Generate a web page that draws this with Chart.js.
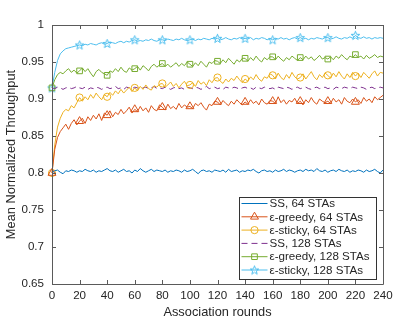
<!DOCTYPE html>
<html>
<head>
<meta charset="utf-8">
<script src="https://cdn.jsdelivr.net/npm/chart.js@4"></script>
<style>
  html, body { margin: 0; padding: 0; background: #fff; }
  #wrap { width: 399px; height: 320px; }
</style>
</head>
<body>
<div id="wrap"><canvas id="tputChart"></canvas></div>
<script>
// association rounds (sampled every 2 rounds)
const rounds = [0,2,4,6,8,10,12,14,16,18,20,22,24,26,28,30,32,34,36,38,
  40,42,44,46,48,50,52,54,56,58,60,62,64,66,68,70,72,74,76,78,
  80,82,84,86,88,90,92,94,96,98,100,102,104,106,108,110,112,114,116,118,
  120,122,124,126,128,130,132,134,136,138,140,142,144,146,148,150,152,154,156,158,
  160,162,164,166,168,170,172,174,176,178,180,182,184,186,188,190,192,194,196,198,
  200,202,204,206,208,210,212,214,216,218,220,222,224,226,228,230,232,234,236,238,240];

const ss64 = [0.800,0.803,0.804,0.801,0.799,0.803,0.802,0.804,0.803,0.801,
  0.803,0.802,0.805,0.803,0.802,0.804,0.801,0.803,0.802,0.804,
  0.806,0.803,0.802,0.804,0.801,0.803,0.805,0.802,0.803,0.800,
  0.804,0.802,0.806,0.803,0.801,0.803,0.805,0.802,0.804,0.803,
  0.802,0.804,0.801,0.803,0.802,0.804,0.803,0.801,0.804,0.802,
  0.803,0.805,0.802,0.799,0.803,0.804,0.802,0.803,0.801,0.804,
  0.803,0.802,0.804,0.801,0.805,0.802,0.803,0.804,0.801,0.803,
  0.802,0.804,0.803,0.805,0.802,0.800,0.803,0.804,0.802,0.803,
  0.801,0.804,0.802,0.803,0.805,0.802,0.804,0.803,0.801,0.803,
  0.804,0.802,0.805,0.803,0.804,0.802,0.806,0.803,0.802,0.804,
  0.801,0.803,0.804,0.802,0.805,0.803,0.802,0.804,0.801,0.803,
  0.802,0.804,0.803,0.801,0.804,0.802,0.803,0.805,0.802,0.800,0.804];

const greedy64 = [0.800,0.832,0.848,0.856,0.861,0.866,0.859,0.867,0.872,0.865,
  0.870,0.874,0.867,0.876,0.871,0.878,0.873,0.880,0.871,0.881,
  0.878,0.884,0.876,0.882,0.879,0.886,0.880,0.884,0.889,0.881,
  0.886,0.883,0.890,0.884,0.888,0.882,0.891,0.886,0.884,0.892,
  0.889,0.885,0.893,0.887,0.890,0.886,0.894,0.888,0.892,0.889,
  0.890,0.887,0.894,0.891,0.895,0.889,0.885,0.893,0.891,0.897,
  0.896,0.892,0.898,0.894,0.891,0.897,0.893,0.899,0.895,0.892,
  0.896,0.893,0.899,0.894,0.897,0.892,0.900,0.895,0.893,0.898,
  0.897,0.894,0.903,0.895,0.899,0.893,0.898,0.896,0.901,0.894,
  0.897,0.892,0.899,0.895,0.902,0.896,0.893,0.900,0.897,0.895,
  0.897,0.894,0.901,0.896,0.899,0.893,0.902,0.897,0.895,0.900,
  0.896,0.899,0.894,0.902,0.897,0.900,0.895,0.903,0.899,0.902,0.905];

const sticky64 = [0.800,0.838,0.862,0.874,0.882,0.886,0.884,0.891,0.888,0.895,
  0.902,0.897,0.903,0.899,0.906,0.901,0.908,0.903,0.899,0.906,
  0.903,0.909,0.905,0.911,0.907,0.913,0.908,0.912,0.916,0.910,
  0.915,0.911,0.917,0.913,0.919,0.914,0.912,0.918,0.916,0.920,
  0.921,0.916,0.919,0.923,0.917,0.921,0.915,0.920,0.924,0.918,
  0.919,0.922,0.917,0.925,0.920,0.923,0.918,0.926,0.922,0.928,
  0.929,0.924,0.921,0.927,0.923,0.928,0.925,0.931,0.926,0.922,
  0.927,0.924,0.930,0.926,0.933,0.927,0.924,0.930,0.928,0.934,
  0.932,0.927,0.935,0.929,0.926,0.933,0.928,0.936,0.930,0.927,
  0.929,0.934,0.927,0.932,0.937,0.930,0.926,0.933,0.929,0.935,
  0.932,0.928,0.935,0.930,0.937,0.931,0.927,0.934,0.929,0.936,
  0.931,0.935,0.929,0.936,0.932,0.928,0.934,0.938,0.931,0.936,0.935];

const ss128 = [0.915,0.914,0.916,0.915,0.913,0.915,0.916,0.914,0.915,0.917,
  0.915,0.914,0.916,0.913,0.915,0.914,0.916,0.915,0.913,0.915,
  0.916,0.914,0.915,0.917,0.914,0.915,0.913,0.916,0.915,0.914,
  0.916,0.915,0.913,0.915,0.916,0.914,0.915,0.917,0.914,0.915,
  0.914,0.916,0.915,0.913,0.915,0.916,0.914,0.915,0.913,0.916,
  0.915,0.914,0.916,0.915,0.913,0.915,0.917,0.914,0.915,0.916,
  0.914,0.915,0.913,0.916,0.915,0.914,0.916,0.915,0.913,0.915,
  0.916,0.914,0.915,0.913,0.916,0.915,0.914,0.916,0.915,0.914,
  0.915,0.913,0.916,0.915,0.914,0.916,0.915,0.913,0.915,0.916,
  0.914,0.915,0.916,0.914,0.913,0.915,0.916,0.914,0.915,0.916,
  0.914,0.915,0.913,0.916,0.915,0.914,0.916,0.915,0.914,0.916,
  0.915,0.914,0.916,0.915,0.913,0.915,0.916,0.914,0.915,0.916,0.915];

const greedy128 = [0.915,0.926,0.933,0.936,0.934,0.938,0.941,0.936,0.939,0.935,
  0.938,0.942,0.937,0.941,0.935,0.930,0.937,0.940,0.936,0.934,
  0.932,0.938,0.936,0.941,0.937,0.943,0.938,0.936,0.942,0.939,
  0.941,0.944,0.939,0.945,0.942,0.938,0.944,0.947,0.943,0.946,
  0.948,0.944,0.947,0.943,0.946,0.949,0.944,0.948,0.945,0.950,
  0.947,0.944,0.949,0.945,0.951,0.947,0.943,0.950,0.948,0.952,
  0.951,0.948,0.953,0.949,0.955,0.951,0.947,0.953,0.950,0.955,
  0.955,0.951,0.956,0.952,0.958,0.953,0.950,0.956,0.953,0.957,
  0.957,0.953,0.958,0.954,0.951,0.956,0.953,0.958,0.955,0.952,
  0.956,0.953,0.958,0.954,0.957,0.952,0.955,0.959,0.954,0.956,
  0.954,0.957,0.953,0.958,0.955,0.960,0.956,0.953,0.958,0.956,
  0.960,0.956,0.958,0.954,0.959,0.955,0.957,0.960,0.956,0.958,0.957];

const sticky128 = [0.915,0.936,0.952,0.961,0.965,0.968,0.969,0.970,0.971,0.972,
  0.973,0.972,0.974,0.973,0.975,0.974,0.973,0.975,0.976,0.974,
  0.975,0.977,0.976,0.975,0.977,0.978,0.976,0.978,0.977,0.979,
  0.980,0.978,0.979,0.978,0.980,0.979,0.981,0.979,0.978,0.980,
  0.980,0.979,0.981,0.980,0.979,0.981,0.980,0.982,0.980,0.979,
  0.980,0.981,0.979,0.981,0.980,0.982,0.981,0.980,0.982,0.981,
  0.982,0.980,0.981,0.983,0.981,0.980,0.982,0.981,0.983,0.981,
  0.982,0.981,0.983,0.980,0.982,0.981,0.983,0.982,0.980,0.982,
  0.980,0.982,0.981,0.983,0.981,0.982,0.980,0.982,0.983,0.981,
  0.983,0.981,0.982,0.980,0.982,0.981,0.983,0.982,0.981,0.983,
  0.983,0.981,0.982,0.984,0.982,0.981,0.983,0.982,0.984,0.982,
  0.986,0.983,0.982,0.984,0.982,0.983,0.981,0.983,0.982,0.983,0.982];

const seriesNames = ['SS, 64 STAs', 'ε-greedy, 64 STAs', 'ε-sticky, 64 STAs',
  'SS, 128 STAs', 'ε-greedy, 128 STAs', 'ε-sticky, 128 STAs'];
const yTicks = [0.65, 0.7, 0.75, 0.8, 0.85, 0.9, 0.95, 1];

const FONT = '"Liberation Sans", Arial, Helvetica, sans-serif';
const TXT = '#262626';

// pentagram marker, like matlab's 'p'
function pentagram(color) {
    const c = document.createElement('canvas');
    c.width = 11; c.height = 11;
    const g = c.getContext('2d');
    g.strokeStyle = color;
    g.lineWidth = 1;
    g.beginPath();
    for (let i = 0; i < 10; i++) {
        const r = i % 2 ? 1.9 : 4.6;
        const a = -Math.PI / 2 + i * Math.PI / 5;
        const x = 5.5 + r * Math.cos(a), y = 5.9 + r * Math.sin(a);
        if (i === 0) g.moveTo(x, y); else g.lineTo(x, y);
    }
    g.closePath();
    g.stroke();
    return c;
}

// markers every 20 rounds, up to 220
function markerRadius(r) {
    return function (ctx) {
        return (ctx.dataIndex % 10 === 0 && ctx.dataIndex <= 110) ? r : 0;
    };
}

function makeSet(label, data, color, style, radius, dash) {
    return {
        label: label,
        data: data,
        borderColor: color,
        backgroundColor: 'rgba(0,0,0,0)',
        borderWidth: 1,
        borderDash: dash || [],
        pointStyle: style || 'circle',
        pointRadius: style ? markerRadius(radius) : 0,
        pointHoverRadius: 0,
        pointBorderColor: color,
        pointBackgroundColor: 'rgba(0,0,0,0)',
        pointBorderWidth: 1,
        tension: 0,
        clip: false,
        legendRadius: radius
    };
}

// box + inward ticks on all four sides, then the matlab-style legend
const axesBox = {
    id: 'axesBox',
    afterDraw(chart) {
        const ctx = chart.ctx;
        const a = chart.chartArea;
        const xs = chart.scales.x, ys = chart.scales.y;
        ctx.save();
        ctx.strokeStyle = '#5a5a5a';
        ctx.lineWidth = 1;
        ctx.beginPath();
        ctx.rect(Math.round(a.left) + 0.5, Math.round(a.top) + 0.5,
                 Math.round(a.right - a.left), Math.round(a.bottom - a.top));
        xs.ticks.forEach(function (t) {
            const px = Math.round(xs.getPixelForValue(t.value)) + 0.5;
            ctx.moveTo(px, a.bottom); ctx.lineTo(px, a.bottom - 4);
            ctx.moveTo(px, a.top); ctx.lineTo(px, a.top + 4);
        });
        ys.ticks.forEach(function (t) {
            const py = Math.round(ys.getPixelForValue(t.value)) + 0.5;
            ctx.moveTo(a.left, py); ctx.lineTo(a.left + 4, py);
            ctx.moveTo(a.right, py); ctx.lineTo(a.right - 4, py);
        });
        ctx.stroke();

        // legend
        const bx = 239.5, by = 197.5, bw = 137, bh = 82, rowH = 13.3;
        ctx.fillStyle = '#fff';
        ctx.fillRect(bx, by, bw, bh);
        ctx.strokeStyle = '#333';
        ctx.strokeRect(bx, by, bw, bh);
        ctx.font = '11.6px ' + FONT;
        ctx.textBaseline = 'middle';
        chart.data.datasets.forEach(function (ds, i) {
            const y = by + 6 + i * rowH;
            ctx.strokeStyle = ds.borderColor;
            ctx.setLineDash(ds.borderDash);
            ctx.beginPath();
            ctx.moveTo(bx + 2, y); ctx.lineTo(bx + 28, y);
            ctx.stroke();
            ctx.setLineDash([]);
            if (typeof ds.pointRadius === 'function') {
                ctx.fillStyle = 'rgba(0,0,0,0)';
                Chart.helpers.drawPoint(ctx, {
                    pointStyle: ds.pointStyle, radius: ds.legendRadius,
                    rotation: 0, borderWidth: 1
                }, bx + 15, y);
            }
            ctx.fillStyle = TXT;
            ctx.fillText(ds.label, bx + 30, y + 0.5);
        });
        ctx.restore();
    }
};

document.addEventListener('DOMContentLoaded', function () {
    const ctx = document.getElementById('tputChart').getContext('2d');
    const tputChart = new Chart(ctx, {
        type: 'line',
        data: {
            labels: rounds,
            datasets: [
                makeSet(seriesNames[0], ss64, 'rgb(0,114,189)'),
                makeSet(seriesNames[1], greedy64, 'rgb(217,83,25)', 'triangle', 4.6),
                makeSet(seriesNames[2], sticky64, 'rgb(237,177,32)', 'circle', 3.6),
                makeSet(seriesNames[3], ss128, 'rgb(126,47,142)', null, 0, [6, 4]),
                makeSet(seriesNames[4], greedy128, 'rgb(119,172,48)', 'rect', 4),
                makeSet(seriesNames[5], sticky128, 'rgb(77,190,238)', pentagram('rgb(77,190,238)'), 5)
            ]
        },
        options: {
            responsive: true,
            maintainAspectRatio: false,
            animation: false,
            layout: { padding: { top: 25, right: 16, left: 0, bottom: 0 } },
            plugins: { legend: { display: false }, tooltip: { enabled: false } },
            scales: {
                x: {
                    type: 'linear',
                    min: 0,
                    max: 240,
                    grid: { display: false, drawTicks: false },
                    border: { display: false },
                    ticks: { stepSize: 20, padding: 5, color: TXT, font: { family: FONT, size: 11.6 }, maxRotation: 0 },
                    title: { display: true, text: 'Association rounds', color: TXT,
                             font: { family: FONT, size: 12.8 }, padding: { top: 0, bottom: 0 } },
                    afterFit: function (s) { s.height = 36; }
                },
                y: {
                    min: 0.65,
                    max: 1,
                    grid: { display: false, drawTicks: false },
                    border: { display: false },
                    afterBuildTicks: function (s) { s.ticks = yTicks.map(function (v) { return { value: v }; }); },
                    ticks: {
                        padding: 8, color: TXT, font: { family: FONT, size: 11.6 },
                        callback: function (v) { return String(+v.toFixed(2)); }
                    },
                    title: { display: true, text: 'Mean Normalized Throughput', color: TXT,
                             font: { family: FONT, size: 12.8 }, padding: { top: 4, bottom: 0 } },
                    afterFit: function (s) { s.width = 52; }
                }
            }
        },
        plugins: [axesBox]
    });
});
</script>
</body>
</html>
